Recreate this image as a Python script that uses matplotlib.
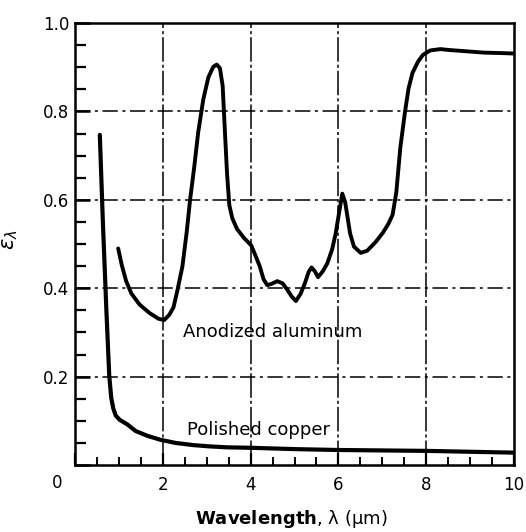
import matplotlib.pyplot as plt
import numpy as np

# Polished copper
cu_x = [0.565, 0.634, 0.714, 0.78, 0.825, 0.872, 0.927, 1.02, 1.19, 1.38, 1.65, 1.95, 2.29, 2.7, 3.09, 3.47,
        4.0, 5.0, 6.0, 7.0, 8.0, 9.0, 10.0]
cu_y = [0.747, 0.552, 0.352, 0.202, 0.152, 0.128, 0.112, 0.102, 0.092, 0.077, 0.066, 0.057, 0.050, 0.045,
        0.042, 0.040, 0.039, 0.036, 0.034, 0.033, 0.032, 0.030, 0.028]

# Anodized aluminum
al_x = [0.983, 1.064, 1.165, 1.284, 1.471, 1.697, 1.901, 2.032, 2.149, 2.244, 2.332, 2.446, 2.543, 2.621,
        2.718, 2.805, 2.922, 3.037, 3.150, 3.229, 3.301, 3.363, 3.413, 3.464, 3.515, 3.584, 3.691, 3.847,
        4.013, 4.110, 4.207, 4.296, 4.380, 4.479, 4.607, 4.729, 4.833, 4.938, 5.031, 5.137, 5.239, 5.322,
        5.389, 5.472, 5.535, 5.642, 5.746, 5.857, 5.936, 6.029, 6.089, 6.155, 6.266, 6.355, 6.510, 6.658,
        6.852, 7.016, 7.140, 7.234, 7.319, 7.409, 7.514, 7.598, 7.687, 7.810, 7.925, 8.092, 8.322, 8.522,
        8.923, 9.325, 9.725, 10.0]
al_y = [0.490, 0.453, 0.416, 0.388, 0.363, 0.344, 0.331, 0.328, 0.340, 0.357, 0.395, 0.449, 0.526, 0.600,
        0.676, 0.752, 0.827, 0.877, 0.901, 0.906, 0.898, 0.858, 0.758, 0.658, 0.588, 0.558, 0.534, 0.514,
        0.497, 0.474, 0.450, 0.420, 0.407, 0.410, 0.416, 0.411, 0.397, 0.381, 0.371, 0.387, 0.412, 0.437,
        0.447, 0.437, 0.425, 0.438, 0.456, 0.488, 0.523, 0.579, 0.614, 0.594, 0.524, 0.494, 0.480, 0.485,
        0.505, 0.526, 0.546, 0.566, 0.617, 0.717, 0.797, 0.852, 0.887, 0.912, 0.928, 0.938, 0.941, 0.939,
        0.936, 0.933, 0.932, 0.931]

x_ticks = [0, 2, 4, 6, 8, 10]
x_labels = ['', '2', '4', '6', '8', '10']
y_ticks = [0, 0.2, 0.4, 0.6, 0.8, 1.0]
y_labels = ['', '0.2', '0.4', '0.6', '0.8', '1.0']

plt.rcParams['font.family'] = ['DejaVu Sans']

fig = plt.figure(figsize=(5.26, 5.32), dpi=100)
ax = fig.add_axes([0.1426, 0.1259, 0.8346, 0.8308])

# сетка
for xv in [2, 4, 6, 8]:
    ax.axvline(xv, color='k', lw=1.1, ls=(0, (16, 2, 2, 2)), zorder=1)
for yv in [0.2, 0.4, 0.6, 0.8]:
    ax.axhline(yv, color='k', lw=1.1, ls=(0, (10, 3, 2, 3)), zorder=1)

ax.plot(cu_x, cu_y, color='k', lw=3.0, solid_capstyle='round', solid_joinstyle='round', zorder=3)
ax.plot(al_x, al_y, color='k', lw=2.8, solid_capstyle='round', solid_joinstyle='round', zorder=3)

ax.text(2.46, 0.30, 'Anodized aluminum', fontsize=13, va='center', ha='left')
ax.text(2.55, 0.079, 'Polished copper', fontsize=13, va='center', ha='left')
ax.annotate('0', xy=(0, 0), xycoords='data', xytext=(-13, -13), textcoords='offset points',
            ha='center', va='center', fontsize=12, annotation_clip=False)

ax.set_xlim(0, 10)
ax.set_ylim(0, 1.0)
ax.set_xticks(x_ticks)
ax.set_xticklabels(x_labels, fontsize=12)
ax.set_yticks(y_ticks)
ax.set_yticklabels(y_labels, fontsize=12)
ax.set_xticks(np.arange(0, 10.01, 0.5), minor=True)
ax.set_yticks(np.arange(0, 1.001, 0.05), minor=True)
ax.tick_params(axis='x', which='major', direction='in', length=9, width=1.6, pad=8)
ax.tick_params(axis='y', which='major', direction='in', length=11, width=1.8, pad=4)
ax.tick_params(axis='x', which='minor', direction='in', length=6, width=1.4)
ax.tick_params(axis='y', which='minor', direction='in', length=8, width=1.6)
for s in ax.spines.values():
    s.set_linewidth(1.8)

ax.set_xlabel(r'$\mathbf{Wavelength}$, λ (μm)', fontsize=13)
ax.xaxis.set_label_coords(0.492, -0.098)
ax.set_ylabel(r'$\epsilon_\lambda$', fontsize=15)
ax.yaxis.set_label_coords(-0.125, 0.51)

fig.savefig('out.png', dpi=100)
